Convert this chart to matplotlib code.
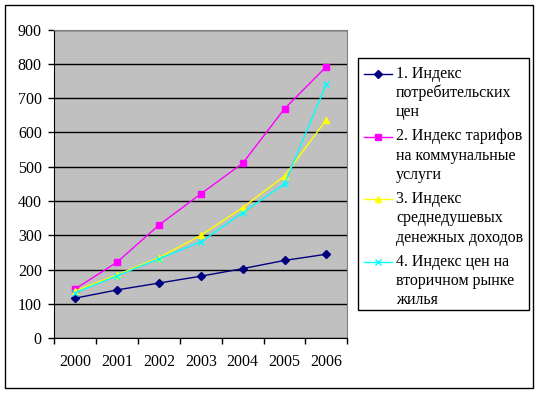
import matplotlib
matplotlib.use('Agg')
import matplotlib.pyplot as plt
from matplotlib.lines import Line2D
from matplotlib.patches import Rectangle

# ---------------------------------------------------------------------------
# данные
# ---------------------------------------------------------------------------
years = ['2000', '2001', '2002', '2003', '2004', '2005', '2006']

cpi       = [117, 141, 161, 181, 203, 227, 245]   # 1. потребительские цены
utilities = [144, 222, 330, 421, 510, 669, 792]   # 2. коммунальные услуги
income    = [138, 185, 235, 300, 381, 473, 637]   # 3. денежные доходы
housing   = [133, 182, 232, 281, 366, 450, 741]   # 4. вторичный рынок жилья

labels = ['1. Индекс\nпотребительских\nцен',
          '2. Индекс тарифов\nна коммунальные\nуслуги',
          '3. Индекс\nсреднедушевых\nденежных доходов',
          '4. Индекс цен на\nвторичном рынке\nжилья']

series = [cpi, utilities, income, housing]
colors = ['#000080', '#FF00FF', '#FFFF00', '#00FFFF']
markers = ['D', 's', '^', 'x']
msizes = [4, 4.5, 5, 5]

W, H = 540, 394
FS = 11.5
plt.rcParams['font.family'] = ['Liberation Serif', 'DejaVu Serif']

fig = plt.figure(figsize=(W / 100, H / 100), dpi=100)
fig.patch.set_facecolor('white')

# внешняя рамка
fig.patches.append(Rectangle((5 / W, 1 - 388 / H), 528 / W, 383 / H,
                             transform=fig.transFigure, fill=False,
                             edgecolor='black', linewidth=1.0))

# область графика
ax = fig.add_axes([54.3 / W, 1 - 338.3 / H, 293 / W, 308.8 / H])
ax.set_facecolor('#C0C0C0')
x = list(range(len(years)))
for vals, c, m, ms in zip(series, colors, markers, msizes):
    ax.plot(x, vals, color=c, marker=m, markersize=ms, markeredgewidth=1.0,
            linewidth=1.0, zorder=3)

ax.set_xlim(-0.5, len(years) - 0.5)
ax.set_ylim(0, 900)
ax.set_yticks(range(0, 1000, 100))
ax.set_xticks([i - 0.5 for i in range(len(years) + 1)])
ax.set_xticklabels([])
ax.set_xticks(x, minor=True)
ax.set_xticklabels(years, minor=True)
ax.tick_params(axis='x', which='major', length=4, width=1, direction='out')
ax.tick_params(axis='x', which='minor', length=0, pad=11, labelsize=FS)
ax.tick_params(axis='y', length=4, width=1, direction='out', pad=5, labelsize=FS)
ax.grid(axis='y', color='black', linewidth=1.0, zorder=1)
ax.set_axisbelow(True)

for s in ['top', 'right']:
    ax.spines[s].set_color('#808080')
for s in ['left', 'bottom']:
    ax.spines[s].set_color('black')

# легенда
fig.patches.append(Rectangle((358 / W, 1 - 310 / H), 171 / W, 252 / H,
                             transform=fig.transFigure, fill=False,
                             edgecolor='black', linewidth=1.0))
first_rows = [73.5, 136.5, 199, 261.5]
row_step = 19.3
for lab, y0, c, m, ms in zip(labels, first_rows, colors, markers, msizes):
    fig.lines.append(Line2D([364 / W, 392 / W], [1 - y0 / H, 1 - y0 / H],
                            transform=fig.transFigure, color=c, linewidth=1.0))
    fig.lines.append(Line2D([378 / W], [1 - y0 / H], transform=fig.transFigure,
                            color=c, marker=m, markersize=ms, markeredgewidth=1.0))
    for k, line in enumerate(lab.split('\n')):
        fig.text(396 / W, 1 - (y0 + k * row_step) / H, line, fontsize=FS,
                 va='center', ha='left')

fig.savefig('out.png', dpi=100)
